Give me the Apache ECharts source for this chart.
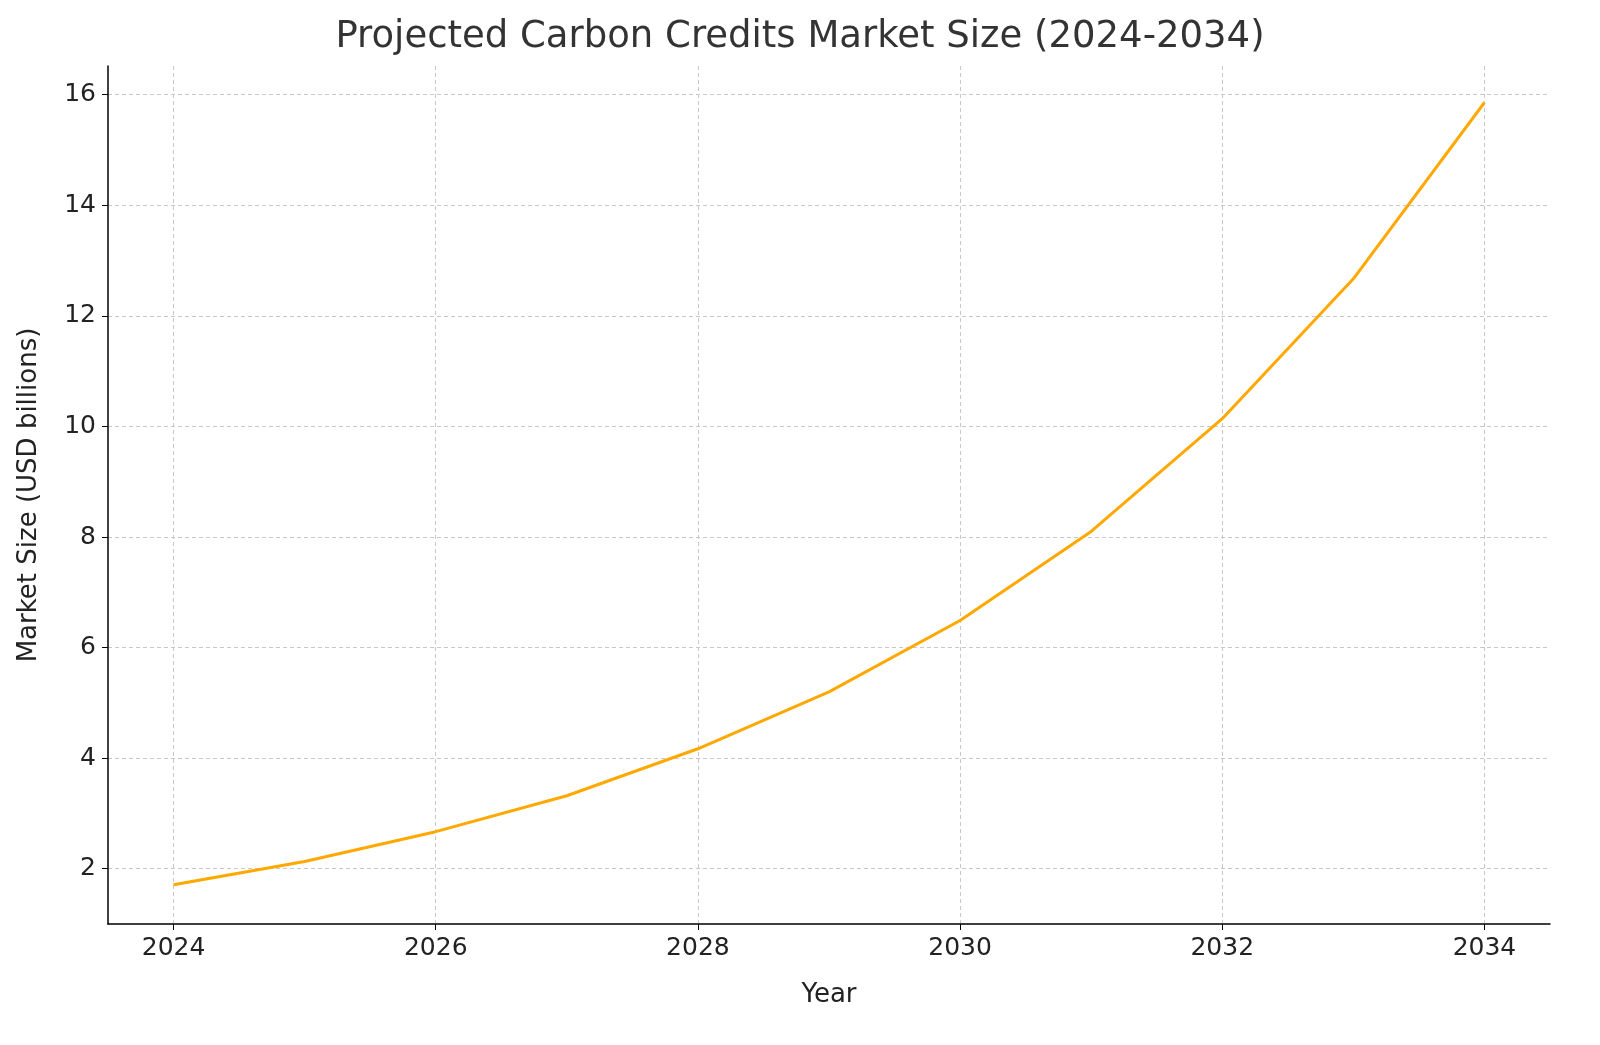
<!DOCTYPE html>
<html>
<head>
<meta charset="utf-8">
<script src="https://cdn.jsdelivr.net/npm/echarts@6/dist/echarts.min.js"></script>
<style>html,body{margin:0;padding:0;background:#fff}#c{width:1600px;height:1045px}</style>
</head>
<body>
<div id="c"></div>
<script>
const years = [2024, 2025, 2026, 2027, 2028, 2029, 2030, 2031, 2032, 2033, 2034];
const marketSize = [1.71, 2.13, 2.67, 3.32, 4.17, 5.2, 6.49, 8.1, 10.14, 12.67, 15.86];
const xTicks = [2024, 2026, 2028, 2030, 2032, 2034];
const yTicks = [2, 4, 6, 8, 10, 12, 14, 16];

const font = 'DejaVu Sans';
const chart = echarts.init(document.getElementById('c'));
const split = { show: true, lineStyle: { color: '#c8c8c8', type: [4, 3], width: 1 } };

chart.setOption({
  animation: false,
  title: {
    text: 'Projected Carbon Credits Market Size (2024-2034)',
    left: 'center', top: 14,
    textStyle: { fontFamily: font, fontSize: 37, fontWeight: 'normal', color: '#333' }
  },
  grid: { left: 108, right: 50, top: 66, bottom: 121 },
  xAxis: {
    type: 'value', min: 2023.5, max: 2034.5,
    name: 'Year', nameLocation: 'middle', nameGap: 58,
    nameTextStyle: { fontFamily: font, fontSize: 26, color: '#222' },
    axisLine: { show: true, onZero: false, lineStyle: { color: '#000', width: 1.5 } },
    axisTick: { show: true, length: 6, customValues: xTicks, lineStyle: { color: '#000' } },
    axisLabel: { customValues: xTicks, formatter: v => String(v), fontFamily: font, fontSize: 25, color: '#222', margin: 12 },
    splitLine: split
  },
  yAxis: {
    type: 'value', min: 1, max: 16.52,
    name: 'Market Size (USD billions)', nameLocation: 'middle', nameGap: 66,
    nameTextStyle: { fontFamily: font, fontSize: 26, color: '#222' },
    axisLine: { show: true, onZero: false, lineStyle: { color: '#000', width: 1.5 } },
    axisTick: { show: true, length: 6, customValues: yTicks, lineStyle: { color: '#000' } },
    axisLabel: { customValues: yTicks, fontFamily: font, fontSize: 25, color: '#222', margin: 12 },
    splitLine: split
  },
  series: [{
    type: 'line',
    data: years.map((y, i) => [y, marketSize[i]]),
    showSymbol: false,
    lineStyle: { color: '#FFA800', width: 3 },
    itemStyle: { color: '#FFA800' }
  }]
});
</script>
</body>
</html>
